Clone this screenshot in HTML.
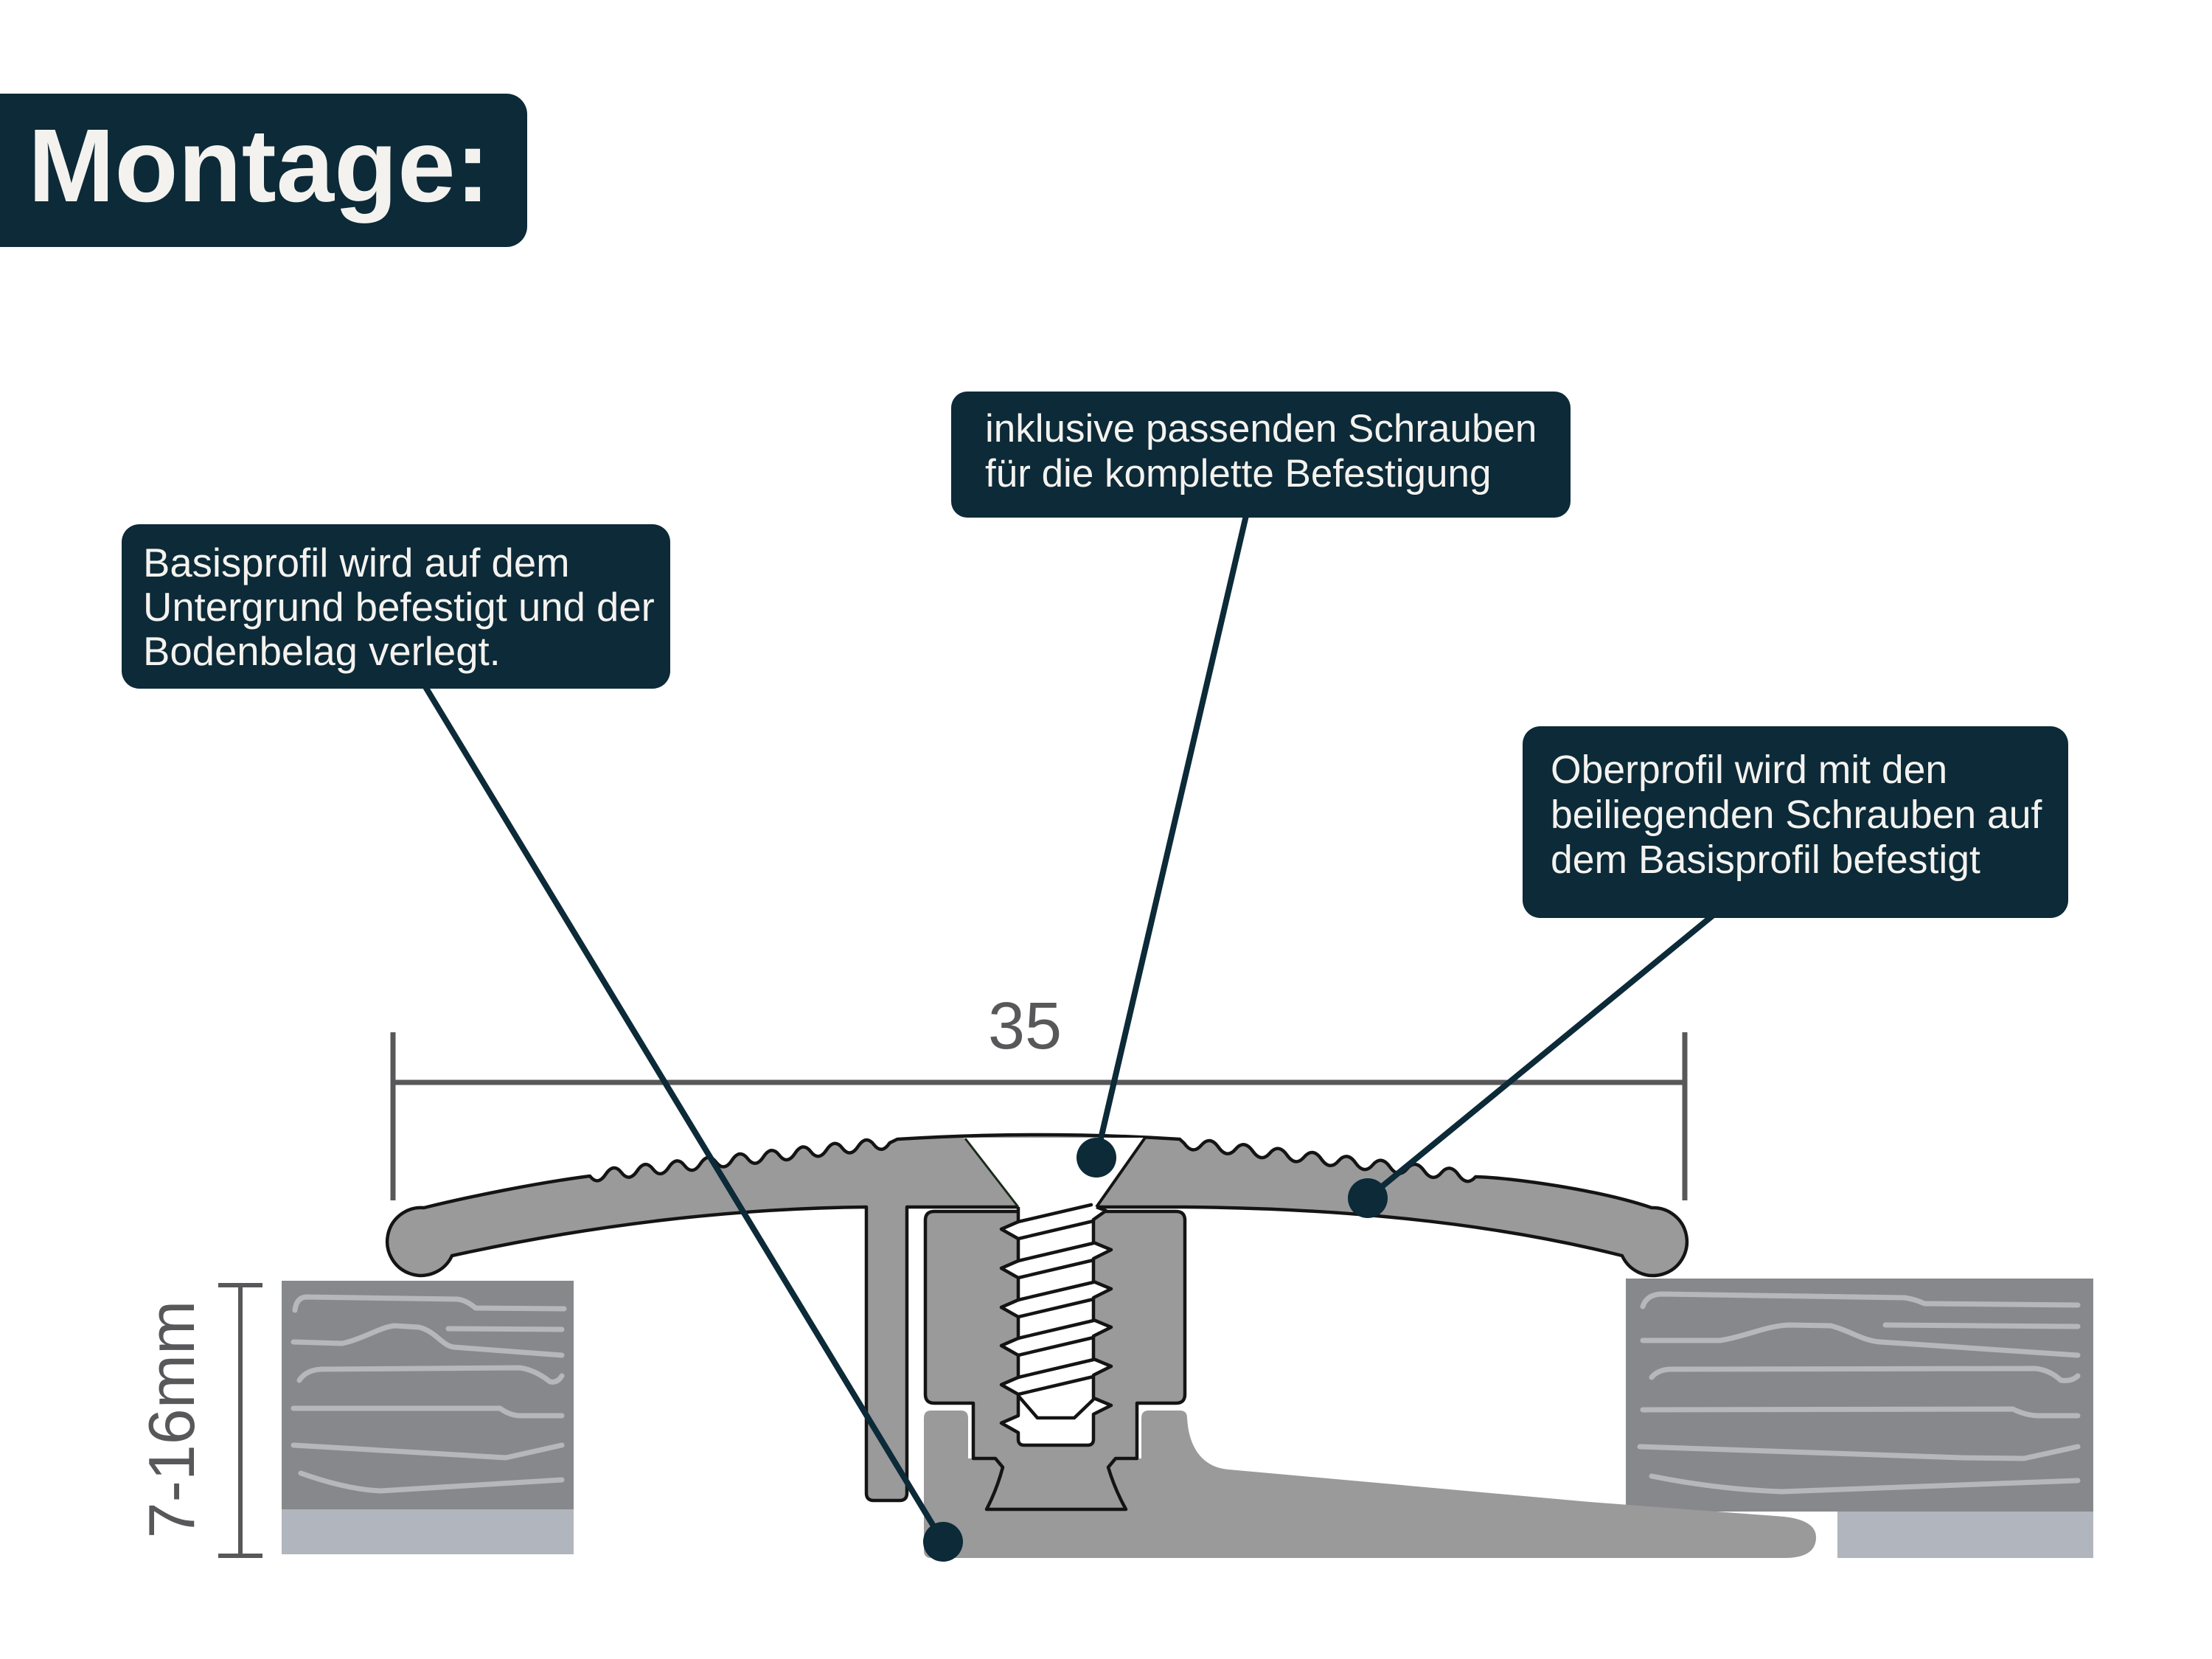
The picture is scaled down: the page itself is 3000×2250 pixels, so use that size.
<!DOCTYPE html>
<html>
<head>
<meta charset="utf-8">
<style>
  html,body{margin:0;padding:0;background:#ffffff;}
  svg{display:block;}
  .bt{font-family:"Liberation Sans",sans-serif;fill:#f4f2ef;}
</style>
</head>
<body>
<svg width="3000" height="2250" viewBox="0 0 3000 2250" xmlns="http://www.w3.org/2000/svg">
  <rect x="0" y="0" width="3000" height="2250" fill="#ffffff"/>

  <!-- Header -->
  <rect x="-40" y="127" width="755" height="208" rx="28" ry="28" fill="#0c2a37"/>
  <text x="38" y="273" font-family="Liberation Sans, sans-serif" font-weight="bold" font-size="141" fill="#f4f2ef">Montage:</text>

  <!-- Left floor block -->
  <rect x="382" y="1737" width="396" height="311" fill="#87888c"/>
  <rect x="382" y="2047" width="396" height="61" fill="#b1b5bd"/>
  <g fill="none" stroke="#b6b7bb" stroke-width="7" stroke-linecap="round" stroke-linejoin="round">
    <path d="M400,1777 Q402,1760 415,1759 L620,1762 Q632,1763 645,1774 L765,1775"/>
    <path d="M608,1802 L762,1803"/>
    <path d="M398,1820 L464,1822 C495,1815 515,1800 535,1798 L568,1800 C590,1805 600,1825 615,1827 L762,1838"/>
    <path d="M406,1872 Q415,1858 436,1857 L705,1855 Q726,1858 746,1874 Q756,1876 762,1866"/>
    <path d="M398,1910 L678,1910 Q692,1920 706,1920 L762,1920"/>
    <path d="M398,1960 L686,1977 L762,1960"/>
    <path d="M408,1998 Q470,2020 516,2022 L762,2007"/>
  </g>

  <!-- Right floor block -->
  <rect x="2205" y="1734" width="634" height="316" fill="#87888c"/>
  <rect x="2492" y="2050" width="347" height="63" fill="#b1b5bd"/>
  <g fill="none" stroke="#b6b7bb" stroke-width="7" stroke-linecap="round" stroke-linejoin="round">
    <path d="M2228,1772 Q2233,1756 2253,1755 L2583,1760 Q2597,1762 2610,1768 L2818,1770"/>
    <path d="M2557,1797 L2818,1799"/>
    <path d="M2228,1818 L2333,1818 C2370,1812 2395,1798 2427,1797 L2483,1798 C2510,1805 2525,1818 2550,1820 L2818,1838"/>
    <path d="M2240,1868 Q2248,1858 2265,1857 L2760,1856 Q2780,1858 2795,1872 Q2810,1874 2818,1866"/>
    <path d="M2228,1912 L2730,1911 Q2748,1920 2765,1920 L2818,1920"/>
    <path d="M2224,1962 L2660,1977 L2745,1978 L2818,1962"/>
    <path d="M2240,2002 Q2330,2020 2417,2023 L2818,2008"/>
  </g>

  <!-- Dimension 35 -->
  <g stroke="#58585a" fill="none">
    <line x1="533" y1="1400" x2="533" y2="1628" stroke-width="7"/>
    <line x1="2285" y1="1400" x2="2285" y2="1628" stroke-width="7"/>
    <line x1="533" y1="1468" x2="2285" y2="1468" stroke-width="7"/>
  </g>
  <text x="1390" y="1422" text-anchor="middle" font-family="Liberation Sans, sans-serif" font-size="90" fill="#58585a">35</text>

  <!-- Dimension 7-16mm -->
  <g stroke="#58585a" fill="none" stroke-width="6">
    <line x1="326" y1="1743" x2="326" y2="2110"/>
    <line x1="296" y1="1743" x2="356" y2="1743"/>
    <line x1="296" y1="2110" x2="356" y2="2110"/>
  </g>
  <text transform="translate(263,1925) rotate(-90)" text-anchor="middle" font-family="Liberation Sans, sans-serif" font-size="88" fill="#58585a">7-16mm</text>

  <!-- Base profile -->
  <path d="M1263,1913 H1303 Q1313,1913 1313,1923 V1978 H1548 V1923 Q1548,1913 1558,1913 H1600 Q1610,1913 1610,1923 C1612,1962 1630,1990 1666,1993 L2156,2037 L2420,2057 Q2463,2062 2463,2085 Q2463,2113 2420,2113 H1263 Q1253,2113 1253,2103 V1923 Q1253,1913 1263,1913 Z" fill="#9a9a9a"/>

  <!-- Top profile -->
  <path d="M613,1703 A46 46 0 1 1 575,1638 C640,1622 730,1604 800,1595 Q810.7,1608.8 821.4,1592.63 T842.8,1590.27 T864.2,1587.9 T885.6,1585.54 T907,1583.17 T928.4,1580.8 T949.8,1578.44 T971.2,1576.07 T992.6,1573.7 T1014,1571.34 T1035.4,1568.97 T1056.8,1566.61 T1078.2,1564.24 T1099.6,1561.87 T1121,1559.51 T1142.4,1557.14 T1163.8,1554.77 T1185.2,1552.41 T1206.6,1550.04 L1217,1545 Q1410,1533 1600,1545 L1606,1550.5 Q1617.6,1566.84 1629.25,1553.17 T1652.5,1555.85 T1675.75,1558.52 T1699,1561.2 T1722.25,1563.87 T1745.5,1566.54 T1768.75,1569.22 T1792,1571.89 T1815.25,1574.57 T1838.5,1577.24 T1861.75,1579.91 T1885,1582.59 T1908.25,1585.26 T1931.5,1587.94 T1954.75,1590.61 T1978,1593.28 T2001.25,1595.96 C2050,1597 2170,1614 2240,1638 A46 46 0 1 1 2200,1703 Q1950,1640 1607,1637 H1230 V2025 Q1230,2035 1220,2035 H1185 Q1175,2035 1175,2025 V1637 Q900,1640 613,1703 Z" fill="#9a9a9a" stroke="#141414" stroke-width="4.5" stroke-linejoin="round"/>

  <!-- Clip box with neck and dovetail -->
  <path d="M1267,1643 H1595 Q1607,1643 1607,1655 V1891 Q1607,1903 1595,1903 H1542 V1978 H1513 L1503,1990 Q1512,2020 1527,2047 H1338 Q1352,2020 1360,1990 L1350,1978 H1320 V1903 H1267 Q1255,1903 1255,1891 V1655 Q1255,1643 1267,1643 Z" fill="#9a9a9a" stroke="#141414" stroke-width="4.5" stroke-linejoin="round"/>

  <!-- Countersink -->
  <polygon points="1307,1543 1553,1543 1487,1637 1380,1637" fill="#ffffff"/>
  <line x1="1309" y1="1544" x2="1381" y2="1637" stroke="#1a2a1a" stroke-width="3"/>
  <line x1="1553" y1="1543" x2="1487" y2="1637" stroke="#141414" stroke-width="4"/>

  <!-- Screw -->
  <path d="M1381,1637 V1657 L1358,1667 L1381,1680 V1710 L1358,1720 L1381,1733 V1763 L1358,1773 L1381,1786 V1815 L1358,1825 L1381,1838 V1868 L1358,1878 L1381,1891 V1920 L1358,1930 L1381,1943 V1952 Q1381,1960 1389,1960 H1475 Q1483,1960 1483,1952 V1918 L1507,1906 L1483,1896 V1865 L1507,1853 L1483,1843 V1812 L1507,1800 L1483,1790 V1760 L1507,1748 L1483,1738 V1707 L1507,1695 L1483,1685 V1654 L1500,1642 L1487,1637" fill="#ffffff" stroke="#141414" stroke-width="4.5" stroke-linejoin="round"/>
  <g stroke="#141414" stroke-width="4.5" stroke-linecap="round">
    <line x1="1381" y1="1657" x2="1480" y2="1634"/>
    <line x1="1381" y1="1680" x2="1483" y2="1656"/>
    <line x1="1381" y1="1710" x2="1483" y2="1686"/>
    <line x1="1381" y1="1733" x2="1483" y2="1709"/>
    <line x1="1381" y1="1763" x2="1483" y2="1739"/>
    <line x1="1381" y1="1786" x2="1483" y2="1762"/>
    <line x1="1381" y1="1815" x2="1483" y2="1791"/>
    <line x1="1381" y1="1838" x2="1483" y2="1814"/>
    <line x1="1381" y1="1868" x2="1483" y2="1844"/>
    <line x1="1381" y1="1891" x2="1483" y2="1867"/>
  </g>
  <polyline points="1381,1893 1407,1923 1457,1923 1483,1898" fill="none" stroke="#141414" stroke-width="4.5" stroke-linejoin="round"/>

  <!-- Connectors -->
  <g stroke="#0c2a37" stroke-width="8" stroke-linecap="round">
    <line x1="576" y1="930" x2="1279" y2="2091"/>
    <line x1="1691" y1="695" x2="1487" y2="1570"/>
    <line x1="2325" y1="1240" x2="1855" y2="1625"/>
  </g>
  <g fill="#0c2a37">
    <circle cx="1279" cy="2091" r="27"/>
    <circle cx="1487" cy="1570" r="27"/>
    <circle cx="1855" cy="1625" r="27"/>
  </g>

  <!-- Callout boxes -->
  <rect x="1290" y="531" width="840" height="171" rx="22" ry="22" fill="#0c2a37"/>
  <text class="bt" font-size="53">
    <tspan x="1336" y="599">inklusive passenden Schrauben</tspan>
    <tspan x="1336" y="660">für die komplette Befestigung</tspan>
  </text>

  <rect x="165" y="711" width="744" height="223" rx="24" ry="24" fill="#0c2a37"/>
  <text class="bt" font-size="54.5">
    <tspan x="194" y="782">Basisprofil wird auf dem</tspan>
    <tspan x="194" y="842">Untergrund befestigt und der</tspan>
    <tspan x="194" y="902">Bodenbelag verlegt.</tspan>
  </text>

  <rect x="2065" y="985" width="740" height="260" rx="24" ry="24" fill="#0c2a37"/>
  <text class="bt" font-size="53.5">
    <tspan x="2103" y="1062">Oberprofil wird mit den</tspan>
    <tspan x="2103" y="1123">beiliegenden Schrauben auf</tspan>
    <tspan x="2103" y="1184">dem Basisprofil befestigt</tspan>
  </text>
</svg>
</body>
</html>
